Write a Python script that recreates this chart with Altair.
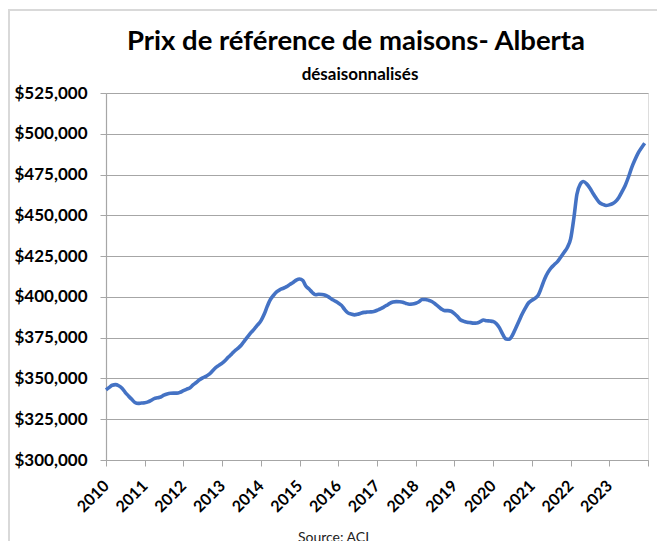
import altair as alt
import pandas as pd

# Monthly benchmark price (thousands of $), Jan 2010 .. Dec 2023
months = pd.date_range("2010-01-01", periods=168, freq="MS")
prix_k = [
    # 2010
    343.0, 344.5, 345.8, 346.2, 345.5, 344.0, 341.5, 339.3, 337.2, 335.3, 334.7, 334.9,
    # 2011
    335.1, 335.6, 336.5, 337.6, 338.1, 338.6, 339.7, 340.5, 340.9, 341.0, 341.0, 341.5,
    # 2012
    342.5, 343.4, 344.2, 346.0, 347.5, 349.2, 350.4, 351.3, 352.6, 354.6, 356.6, 358.0,
    # 2013
    359.4, 361.2, 363.1, 365.0, 367.0, 368.6, 370.5, 373.2, 375.8, 378.2, 380.4, 382.8,
    # 2014
    385.3, 389.3, 394.0, 398.4, 401.0, 403.2, 404.5, 405.3, 406.3, 407.6, 408.8, 410.3,
    # 2015
    411.0, 410.0, 406.7, 404.8, 402.7, 401.3, 401.6, 401.5, 401.0, 400.0, 398.6, 397.5,
    # 2016
    396.3, 394.8, 392.3, 390.2, 389.5, 389.0, 389.3, 390.0, 390.5, 390.7, 390.8, 391.0,
    # 2017
    391.8, 392.6, 393.6, 394.8, 396.0, 396.8, 397.1, 397.0, 396.7, 396.0, 395.5, 395.6,
    # 2018
    396.1, 397.0, 398.4, 398.4, 398.0, 397.2, 395.8, 394.2, 392.5, 391.6, 391.6, 391.2,
    # 2019
    389.8, 387.8, 385.8, 385.0, 384.4, 384.2, 383.9, 384.0, 384.8, 385.8, 385.4, 385.2,
    # 2020
    384.9, 383.5, 381.0, 377.0, 374.2, 374.0, 376.5, 380.8, 385.2, 389.5, 393.3, 396.4,
    # 2021
    398.0, 399.2, 401.0, 405.8, 411.0, 415.0, 417.8, 419.8, 421.8, 424.5, 427.4, 430.3,
    # 2022
    435.5, 448.5, 462.8, 469.0, 470.7, 469.3, 466.8, 463.4, 460.3, 457.8, 456.7, 456.0,
    # 2023
    456.4, 457.2, 458.5, 461.0, 464.5, 468.5, 473.5, 479.4, 484.2, 488.3, 491.4, 494.2,
]
years = list(range(2010, 2025))
y_ticks = list(range(300000, 525001, 25000))
title_text = "Prix de référence de maisons- Alberta"
subtitle_text = "désaisonnalisés"
source_text = "Source: ACI"

df = pd.DataFrame({"date": months, "prix": [v * 1000 for v in prix_k]})
one = pd.DataFrame({"k": [0]})

FONT = "Lato"
GRID = "#a6a6a6"

x_enc = alt.X(
    "date:T",
    scale=alt.Scale(domain=[alt.DateTime(year=2010, month=1, date=1),
                            alt.DateTime(year=2024, month=1, date=1)]),
    axis=alt.Axis(
        values=[alt.DateTime(year=y, month=1, date=1) for y in years],
        labelExpr="year(datum.value) < 2024 ? timeFormat(datum.value, '%Y') : ''",
        labelAngle=-45, labelAlign="right", labelBaseline="middle",
        labelFont=FONT, labelFontSize=16, labelFontWeight="bold", labelColor="black",
        labelPadding=17, labelOverlap=False, labelFlush=False, labelBound=False,
        tickSize=6, tickColor=GRID, domainColor=GRID, domainWidth=1.2, grid=False,
        title=source_text, titleFont=FONT, titleFontSize=14, titleFontWeight="normal",
        titleColor="#222222", titleX=227, titleY=81, titleAlign="center",
        titleBaseline="alphabetic", titleAnchor="start",
    ),
)
y_enc = alt.Y(
    "prix:Q",
    scale=alt.Scale(domain=[300000, 525000], nice=False, zero=False),
    axis=alt.Axis(
        values=y_ticks, format="$,.0f",
        labelFont=FONT, labelFontSize=17, labelFontWeight="bold", labelColor="black",
        labelPadding=13, tickSize=6, tickColor=GRID, domainColor=GRID, domainWidth=1.2,
        grid=True, gridColor=GRID, gridWidth=1.2, title=None,
    ),
)

line = alt.Chart(df).mark_line(color="#4472C4", strokeWidth=3.6, interpolate="monotone").encode(
    x=x_enc, y=y_enc
)

frame = alt.Chart(one).mark_rect(fillOpacity=0, stroke="#d9d9d9", strokeWidth=2).encode(
    x=alt.value(-97), x2=alt.value(700), y=alt.value(-83), y2=alt.value(700)
)

title = alt.Chart(one).mark_text(
    text=title_text, font=FONT, fontSize=27.5, fontWeight="bold", color="black",
    align="center", baseline="alphabetic",
).encode(x=alt.value(250), y=alt.value(-43))

subtitle = alt.Chart(one).mark_text(
    text=subtitle_text, font=FONT, fontSize=17, fontWeight="bold", color="black",
    align="center", baseline="alphabetic",
).encode(x=alt.value(254), y=alt.value(-13))

chart = alt.layer(frame, line, title, subtitle).properties(
    width=542, height=367,
    autosize=alt.AutoSizeParams(type="none"),
    padding={"left": 98, "top": 85, "right": 9, "bottom": 81},
).configure_view(stroke="transparent").configure(background="white")

chart.save("out.html", embed_options={"renderer": "svg", "actions": False})
